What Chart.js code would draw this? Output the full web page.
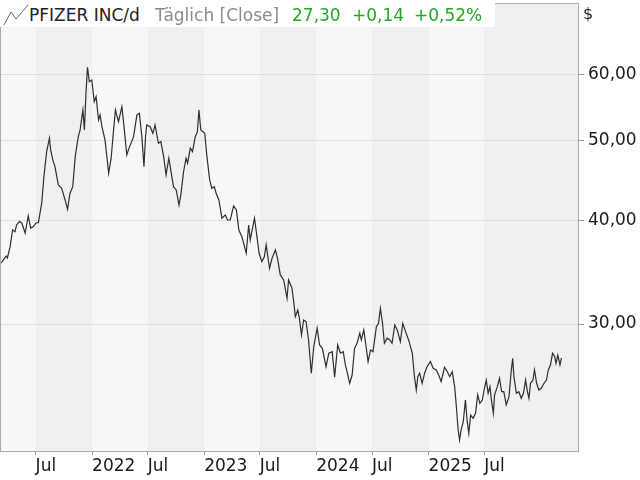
<!DOCTYPE html>
<html>
<head>
<meta charset="utf-8">
<script src="https://cdn.jsdelivr.net/npm/chart.js@4.4.1/dist/chart.umd.min.js"></script>
<style>
  html, body { margin: 0; padding: 0; background: #fff; }
  #wrap { position: relative; width: 640px; height: 480px; font-family: "DejaVu Sans", sans-serif; }
  #grafico { position: absolute; left: 0; top: 0; }
  #cabecera { position: absolute; left: 0; top: 0; width: 495px; height: 27px; background: #fff; }
  .txt { position: absolute; top: 5px; font-size: 17px; white-space: nowrap; line-height: normal; }
  #icono { position: absolute; left: 2px; top: 3px; }
</style>
</head>
<body>
<div id="wrap">
  <canvas id="grafico" width="640" height="480"></canvas>
  <div id="cabecera">
    <svg id="icono" width="28" height="24"><polyline points="2,22 9,9 14,16 26,2" fill="none" stroke="#666" stroke-width="1"/></svg>
    <span class="txt" style="left:29px;color:#222">PFIZER INC/d</span>
    <span class="txt" style="left:155px;color:#8c8c8c">Täglich [Close]</span>
    <span class="txt" style="left:292px;color:#22a822">27,30</span>
    <span class="txt" style="left:352px;color:#22a822">+0,14</span>
    <span class="txt" style="left:414px;color:#22a822">+0,52%</span>
  </div>
  <span class="txt" style="left:583px;top:4px;color:#222;font-size:16px">$</span>
</div>
<script>
// ========== DATOS ==========
const fechas = [
  '2021-03-10','2021-03-18','2021-03-27','2021-03-31','2021-04-09','2021-04-17','2021-04-25','2021-04-30',
  '2021-05-09','2021-05-17','2021-05-28','2021-06-07','2021-06-15','2021-06-24','2021-07-02','2021-07-10',
  '2021-07-21','2021-07-28','2021-08-06','2021-08-15','2021-08-19','2021-08-26','2021-09-02','2021-09-13',
  '2021-09-24','2021-10-05','2021-10-13','2021-10-21','2021-10-30','2021-11-07','2021-11-17','2021-11-23',
  '2021-12-02','2021-12-07','2021-12-12','2021-12-17','2021-12-23','2021-12-31','2022-01-08','2022-01-14',
  '2022-01-22','2022-01-27','2022-02-02','2022-02-12','2022-02-24','2022-03-04','2022-03-11','2022-03-18',
  '2022-03-28','2022-04-08','2022-04-15','2022-04-24','2022-05-03','2022-05-10','2022-05-16','2022-05-27',
  '2022-06-04','2022-06-12','2022-06-19','2022-06-24','2022-06-28','2022-07-09','2022-07-18','2022-07-25',
  '2022-08-05','2022-08-13','2022-08-22','2022-08-30','2022-09-08','2022-09-15','2022-09-23','2022-10-02',
  '2022-10-11','2022-10-17','2022-10-26','2022-11-03','2022-11-08','2022-11-17','2022-11-24','2022-12-03',
  '2022-12-10','2022-12-15','2022-12-21','2023-01-03','2023-01-10','2023-01-19','2023-01-26','2023-02-03',
  '2023-02-09','2023-02-18','2023-02-28','2023-03-11','2023-03-18','2023-03-27','2023-04-07','2023-04-16',
  '2023-04-24','2023-05-04','2023-05-18','2023-05-26','2023-05-31','2023-06-14','2023-06-22','2023-06-29',
  '2023-07-08','2023-07-16','2023-07-22','2023-08-02','2023-08-10','2023-08-21','2023-08-28','2023-09-06',
  '2023-09-17','2023-09-28','2023-10-03','2023-10-14','2023-10-19','2023-10-25','2023-11-02','2023-11-07',
  '2023-11-14','2023-11-21','2023-11-29','2023-12-07','2023-12-16','2023-12-24','2024-01-04','2024-01-12',
  '2024-01-21','2024-02-02','2024-02-11','2024-02-22','2024-03-01','2024-03-11','2024-03-20','2024-03-29',
  '2024-04-05','2024-04-13','2024-04-19','2024-04-27','2024-05-05','2024-05-13','2024-05-22','2024-05-27',
  '2024-06-04','2024-06-10','2024-06-18','2024-06-26','2024-07-04','2024-07-15','2024-07-22','2024-07-28',
  '2024-08-04','2024-08-10','2024-08-19','2024-08-28','2024-09-04','2024-09-13','2024-09-21','2024-10-01',
  '2024-10-09','2024-10-18','2024-10-28','2024-11-09','2024-11-16','2024-11-22','2024-11-27','2024-12-03',
  '2024-12-11','2024-12-19','2024-12-27','2025-01-07','2025-01-16','2025-01-26','2025-02-03','2025-02-11',
  '2025-02-22','2025-03-03','2025-03-11','2025-03-19','2025-03-27','2025-04-02','2025-04-07','2025-04-12',
  '2025-04-17','2025-04-24','2025-05-01','2025-05-07','2025-05-12','2025-05-18','2025-05-26','2025-06-03',
  '2025-06-10','2025-06-17','2025-06-25','2025-07-02','2025-07-08','2025-07-14','2025-07-20','2025-07-24',
  '2025-07-31','2025-08-04','2025-08-13','2025-08-20','2025-08-27','2025-09-03','2025-09-11','2025-09-20',
  '2025-09-27','2025-10-02','2025-10-06','2025-10-14','2025-10-22','2025-10-30','2025-11-06','2025-11-13',
  '2025-11-19','2025-11-24','2025-11-29','2025-12-07','2025-12-12','2025-12-19','2025-12-26','2026-01-03',
  '2026-01-12','2026-01-20','2026-01-26','2026-02-02','2026-02-09','2026-02-16','2026-02-20','2026-02-26',
  '2026-03-05','2026-03-10'
];
const cierres = [
  35.53,35.86,36.25,36.05,37.21,38.97,38.79,39.52,
  39.89,39.74,38.65,40.52,39.19,39.34,39.74,39.78,
  42.02,45.21,48.47,50.31,48.70,47.36,46.49,44.18,
  43.77,42.37,41.29,43.17,43.97,47.80,50.53,51.49,
  54.43,51.49,57.02,61.30,58.89,59.17,55.70,56.48,
  52.94,53.68,51.96,50.07,45.64,47.59,51.01,54.43,
  52.69,54.93,51.96,48.02,49.15,49.84,50.53,53.68,
  53.93,50.53,46.49,50.53,52.21,51.96,51.01,52.21,
  49.61,49.84,47.80,45.43,47.59,45.85,43.97,43.57,
  41.79,42.97,45.85,47.59,46.93,48.93,48.47,50.53,
  51.24,54.43,51.49,51.01,47.80,44.80,43.77,43.97,
  43.17,42.37,40.27,40.64,40.07,40.07,41.67,41.21,
  38.97,38.26,36.53,39.52,37.91,40.27,38.26,36.53,
  35.69,36.18,37.39,35.03,36.02,36.87,36.02,34.39,
  33.91,32.23,33.91,33.14,32.08,30.62,31.20,30.51,
  29.10,30.34,30.20,28.70,26.16,28.17,29.65,28.30,
  28.04,26.64,27.66,27.78,25.87,28.30,27.66,27.78,
  26.77,26.03,25.44,26.03,28.04,28.44,29.24,28.70,
  29.51,28.44,27.02,27.91,27.78,29.78,30.06,31.35,
  30.06,28.44,28.84,28.70,28.44,29.92,29.51,28.56,
  30.06,29.37,28.70,27.66,25.91,24.97,25.91,26.16,
  25.44,26.16,26.64,27.02,26.52,26.40,26.03,25.55,
  26.60,26.27,25.91,26.27,25.20,23.73,22.40,21.72,
  22.34,22.86,24.28,22.86,22.13,23.29,23.08,23.40,
  24.63,24.06,24.28,25.09,25.67,24.74,25.20,24.40,
  23.40,24.63,25.20,25.80,24.85,24.85,23.95,24.51,
  26.27,27.27,25.91,24.74,24.85,24.40,24.74,25.67,
  24.85,24.40,25.44,25.67,26.40,25.44,24.97,25.09,
  25.44,25.67,26.40,26.77,27.66,27.40,26.89,27.52,
  26.77,27.30
];
const fechasTicks = ['2021-07-01','2022-01-01','2022-07-01','2023-01-01','2023-07-01','2024-01-01','2024-07-01','2025-01-01','2025-07-01'];
const etiquetasTicks = ['Jul','2022','Jul','2023','Jul','2024','Jul','2025','Jul'];
const preciosTicks = [30, 40, 50, 60];
const fechaInicio = '2021-03-07';
const fechaFin = '2026-05-06';
const precioMin = 21.07;
const precioMax = 73.3;

// ========== GRAFICO ==========
const puntos = fechas.map((f, i) => ({ x: Date.parse(f), y: cierres[i] }));
const ticksX = fechasTicks.map(f => Date.parse(f));

// bandas semestrales (Jul-Ene oscuro)
const bandas = {
    id: 'bandas',
    beforeDraw(chart) {
        const { ctx, chartArea: a, scales: { x } } = chart;
        ctx.save();
        ctx.fillStyle = '#f7f7f7';
        ctx.fillRect(a.left, a.top, a.right - a.left, a.bottom - a.top);
        ctx.fillStyle = '#f0f0f0';
        ticksX.forEach((t, i) => {
            if (etiquetasTicks[i] !== 'Jul') return;
            const x0 = Math.round(x.getPixelForValue(t));
            const x1 = i + 1 < ticksX.length ? Math.round(x.getPixelForValue(ticksX[i + 1])) : a.right;
            ctx.fillRect(x0, a.top, x1 - x0, a.bottom - a.top);
        });
        ctx.restore();
    },
    afterDraw(chart) {
        const { ctx, chartArea: a } = chart;
        ctx.save();
        ctx.strokeStyle = '#ababab';
        ctx.lineWidth = 1;
        ctx.strokeRect(a.left + 0.5, a.top + 0.5, a.right - a.left - 1, a.bottom - a.top);
        ctx.restore();
    }
};

const fuente = { family: '"DejaVu Sans", sans-serif', size: 17 };

new Chart(document.getElementById('grafico').getContext('2d'), {
    type: 'line',
    data: {
        datasets: [{
            data: puntos,
            borderColor: '#2e2e2e',
            borderWidth: 1.2,
            pointRadius: 0,
            tension: 0,
            fill: false
        }]
    },
    options: {
        responsive: false,
        animation: false,
        events: [],
        layout: { padding: { top: 3, left: 0, right: 0, bottom: 0 } },
        plugins: {
            legend: { display: false },
            tooltip: { enabled: false }
        },
        scales: {
            x: {
                type: 'linear',
                min: Date.parse(fechaInicio),
                max: Date.parse(fechaFin),
                afterBuildTicks: s => { s.ticks = ticksX.map(v => ({ value: v })); },
                afterFit: s => { s.height = 29; s.paddingLeft = 0; s.paddingRight = 0; },
                border: { display: false },
                grid: { drawOnChartArea: false, tickLength: 4, tickColor: '#9a9a9a' },
                ticks: {
                    autoSkip: false,
                    maxRotation: 0,
                    align: 'start',
                    padding: 1,
                    color: '#1a1a1a',
                    font: fuente,
                    callback: v => etiquetasTicks[ticksX.indexOf(v)]
                }
            },
            y: {
                type: 'logarithmic',
                position: 'right',
                min: precioMin,
                max: precioMax,
                afterBuildTicks: s => { s.ticks = preciosTicks.map(v => ({ value: v })); },
                afterFit: s => { s.width = 61; s.paddingTop = 0; s.paddingBottom = 0; },
                border: { display: false },
                grid: { color: '#dedede', tickLength: 5, tickColor: '#9a9a9a' },
                ticks: {
                    padding: 4,
                    color: '#1a1a1a',
                    font: fuente,
                    callback: v => v.toFixed(2).replace('.', ',')
                }
            }
        }
    },
    plugins: [bandas]
});
</script>
</body>
</html>
